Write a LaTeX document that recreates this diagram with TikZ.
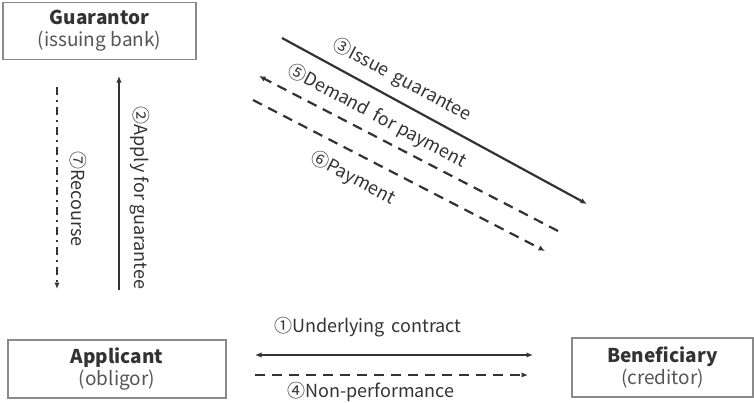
\documentclass[tikz,border=0pt]{standalone}
\usepackage{fontspec}
\setmainfont{Noto Sans CJK KR}
\usetikzlibrary{arrows.meta}
\definecolor{ink}{HTML}{333333}
\definecolor{soft}{HTML}{555555}
\definecolor{frame}{HTML}{8A8A8A}
\tikzset{
  party/.style={draw=frame, line width=1.2pt, minimum width=#1, minimum height=58pt, inner sep=0pt, align=center, font=\fontsize{19}{23}\selectfont},
  flow/.style={draw=ink, line width=2.2pt, -{Latex[length=6.5pt,width=5.5pt]}},
  flowdash/.style={flow, dash pattern=on 10pt off 7pt},
  flowdot/.style={flow, dash pattern=on 8pt off 5pt on 2pt off 5pt},
  tag/.style={text=ink, inner sep=0pt, font=\fontsize{18}{20}\selectfont}
}
\newcommand{\rolename}[1]{{\color{ink}\bfseries #1}}
\newcommand{\roledesc}[1]{{\color{soft}#1}}
\begin{document}
\begin{tikzpicture}[x=1pt, y=-1pt]
\useasboundingbox (0,0) rectangle (754,402);

% parties
\node[party=193pt, minimum height=57pt] (guar) at (99.5,31)
  {\rolename{Guarantor}\\[-1pt]\roledesc{(issuing bank)}};
\node[party=218pt] (appl) at (117,369)
  {\rolename{Applicant}\\[-1pt]\roledesc{(obligor)}};
\node[party=181pt, minimum height=59pt] (bene) at (662.5,367.5)
  {\rolename{Beneficiary}\\[-1pt]\roledesc{(creditor)}};

% end points of the flows
\coordinate (c1a) at (255,355);  \coordinate (c1b) at (533,355);
\coordinate (c4a) at (255,375);  \coordinate (c4b) at (528,375);
\coordinate (c2a) at (119,290);  \coordinate (c2b) at (119,76);
\coordinate (c7a) at (57,87);    \coordinate (c7b) at (57,289);
\coordinate (c3a) at (282,38);   \coordinate (c3b) at (587,204);
\coordinate (c5a) at (558,231);  \coordinate (c5b) at (259,76);
\coordinate (c6a) at (253,100);  \coordinate (c6b) at (545,251);

% underlying contract and non-performance
\draw[flow, {Latex[length=6.5pt,width=5.5pt]}-{Latex[length=6.5pt,width=5.5pt]}] (c1a) -- (c1b);
\draw[flowdash] (c4a) -- (c4b);
\node[tag] (t1) at (368,327) {①Underlying\, contract};
\node[tag] (t4) at (371,392) {④Non-performance};

% application and recourse
\draw[flow] (c2a) -- (c2b);
\draw[flowdot] (c7a) -- (c7b);
\node[tag, rotate=-90] (t2) at (140,198) {②Apply for guarantee};
\node[tag, rotate=-90] (t7) at (78,199) {⑦Recourse};

% guarantee, demand and payment
\draw[flow] (c3a) -- (c3b);
\draw[flowdash] (c5a) -- (c5b);
\draw[flowdash] (c6a) -- (c6b);
\node[tag, rotate=-28] (t3) at (402,80) {③Issue\, guarantee};
\node[tag, rotate=-28] (t5) at (377,116) {⑤Demand\, for payment};
\node[tag, rotate=-28] (t6) at (353,178) {⑥Payment};
\end{tikzpicture}
\end{document}
